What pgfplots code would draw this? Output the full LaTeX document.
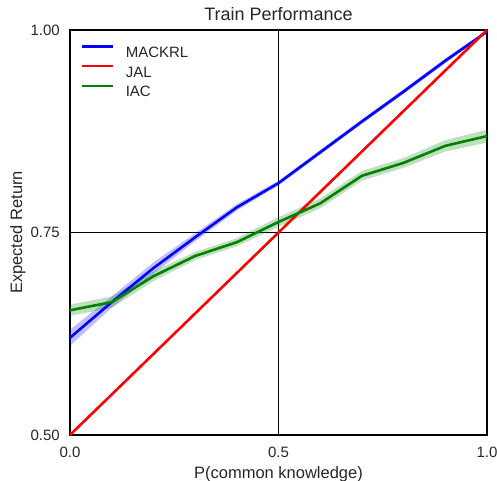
\documentclass[border=0pt]{standalone}
\usepackage{pgfplots}
\pgfplotsset{compat=1.18}
\usepackage{pgfplotstable}
\usepgfplotslibrary{fillbetween}
\usepackage{fontspec}
\setmainfont{Liberation Sans}
\definecolor{txt}{HTML}{262626}

% x, mean, lower, upper
\pgfplotstableread{
x    m      lo     hi
0.0  0.620  0.610  0.630
0.1  0.664  0.657  0.671
0.2  0.706  0.699  0.713
0.3  0.744  0.739  0.749
0.4  0.781  0.777  0.785
0.5  0.811  0.808  0.814
0.6  0.849  0.846  0.852
0.7  0.887  0.884  0.890
0.8  0.924  0.921  0.927
0.9  0.962  0.959  0.965
1.0  0.998  0.996  1.000
}\mackrl

\pgfplotstableread{
x    m      lo     hi
0.0  0.654  0.647  0.661
0.1  0.664  0.657  0.671
0.2  0.696  0.690  0.702
0.3  0.721  0.716  0.726
0.4  0.738  0.733  0.743
0.5  0.763  0.757  0.769
0.6  0.786  0.780  0.792
0.7  0.820  0.814  0.826
0.8  0.836  0.830  0.842
0.9  0.857  0.850  0.864
1.0  0.869  0.861  0.877
}\iac

\begin{document}
\begin{tikzpicture}[x=1pt,y=1pt]
\begin{axis}[
  at={(0,0)}, anchor=south west,
  scale only axis, width=417pt, height=405pt,
  xmin=0, xmax=1, ymin=0.5, ymax=1.0,
  xtick={0,0.5,1}, ytick={0.5,0.75,1},
  xticklabels={0.0,0.5,1.0}, yticklabels={0.50,0.75,1.00},
  /pgf/number format/assume math mode=true,
  tick style={draw=none},
  grid=major, major grid style={black, line width=1.5pt},
  axis line style={black, line width=1.8pt},
  ticklabel style={font=\fontsize{15}{17}\selectfont, text=txt, inner sep=0pt},
  xticklabel style={anchor=base, yshift=-22pt},
  yticklabel style={anchor=east, xshift=-10pt},
  xlabel={P(common knowledge)},
  ylabel={Expected Return},
  xlabel style={font=\fontsize{16.5}{18}\selectfont, text=txt,
    at={(axis description cs:0.5,-0.1074)}, anchor=base, inner sep=0pt},
  ylabel style={font=\fontsize{16.5}{18}\selectfont, text=txt,
    at={(axis description cs:-0.125,0.5)}, anchor=center, rotate=0, inner sep=0pt},
  title={Train Performance},
  title style={font=\fontsize{18}{20}\selectfont, text=txt,
    at={(axis description cs:0.5,1)}, anchor=base, yshift=3pt, inner sep=0pt},
  legend style={draw=none, fill=none, at={(axis description cs:0.024,0.963)},
    anchor=north west, inner sep=0pt, row sep=7.5pt, column sep=0pt,
    font=\fontsize{15}{17}\selectfont, text=txt,
    nodes={inner sep=0pt, text height=11pt, text depth=0pt}},
  legend cell align=left,
  legend image code/.code={\draw[#1] (0pt,5.4pt) -- (31pt,5.4pt) (43pt,5.4pt);},
]
\addplot[name path=mlo, draw=none, forget plot] table[x=x, y=lo] {\mackrl};
\addplot[name path=mhi, draw=none, forget plot] table[x=x, y=hi] {\mackrl};
\addplot[blue, fill opacity=0.25, forget plot] fill between[of=mlo and mhi];
\addplot[name path=ilo, draw=none, forget plot] table[x=x, y=lo] {\iac};
\addplot[name path=ihi, draw=none, forget plot] table[x=x, y=hi] {\iac};
\addplot[green!50!black, fill opacity=0.25, forget plot] fill between[of=ilo and ihi];

\addplot[blue, line width=2.6pt] table[x=x, y=m] {\mackrl};
\addlegendentry{MACKRL}
\addplot[red, line width=2.6pt] coordinates {(0,0.5) (1,1.0)};
\addlegendentry{JAL}
\addplot[green!50!black, line width=2.6pt] table[x=x, y=m] {\iac};
\addlegendentry{IAC}
\end{axis}
\pgfresetboundingbox
\path[use as bounding box] (-70,-45) rectangle (427,435);
\end{tikzpicture}
\end{document}
